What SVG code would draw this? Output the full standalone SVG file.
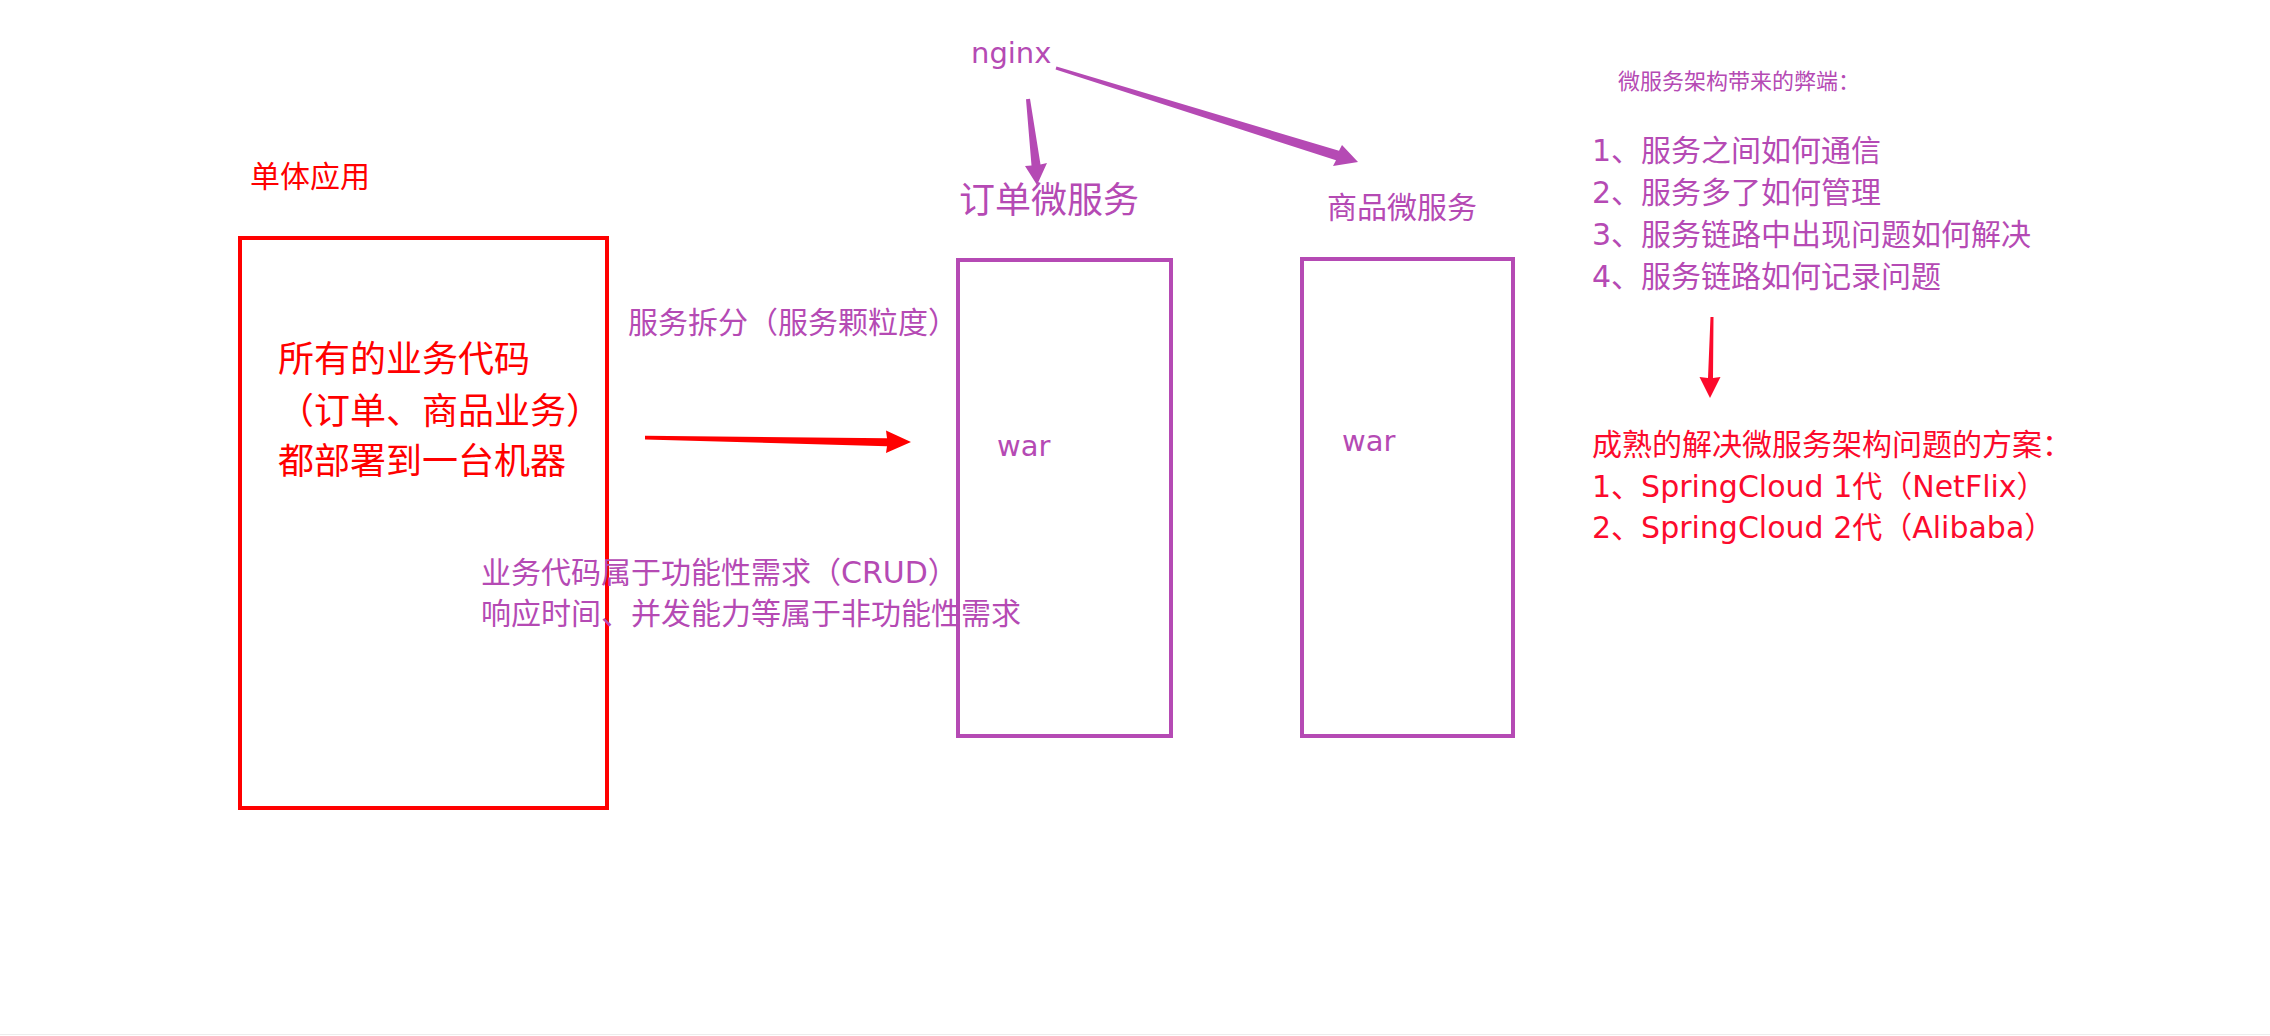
<svg xmlns="http://www.w3.org/2000/svg" width="2270" height="1036" viewBox="0 0 2270 1036">
<style>
  .cjk { font-family: "DejaVu Sans", "Noto Sans CJK SC", sans-serif; }
  .red { fill: #FF0000; }
  .red2 { fill: #FC0A2C; }
  .pur { fill: #B54AB4; }
  .box-red { fill: none; stroke: #FF0000; stroke-width: 4; }
  .box-pur { fill: none; stroke: #B54AB4; stroke-width: 4; }
</style>
<rect x="0" y="0" width="2270" height="1036" fill="#FFFFFF"/>
<line x1="0" y1="1034.5" x2="2270" y2="1034.5" stroke="#ECECEC" stroke-width="1"/>

<g id="monolith">
  <text class="cjk red" x="250" y="187" font-size="30">单体应用</text>
  <rect class="box-red" x="240" y="238" width="367" height="570"/>
  <text class="cjk red" font-size="36">
    <tspan x="278" y="372">所有的业务代码</tspan>
    <tspan x="278" y="424">（订单、商品业务）</tspan>
    <tspan x="278" y="474">都部署到一台机器</tspan>
  </text>
</g>

<g id="split-label">
  <text class="cjk pur" x="628" y="333" font-size="30">服务拆分（服务颗粒度）</text>
</g>

<g id="requirements-note">
  <text class="cjk pur" font-size="30">
    <tspan x="481" y="583">业务代码属于功能性需求（CRUD）</tspan>
    <tspan x="481" y="624">响应时间、并发能力等属于非功能性需求</tspan>
  </text>
</g>

<g id="nginx">
  <text class="cjk pur" x="971" y="63" font-size="29">nginx</text>
</g>

<g id="order-service">
  <text class="cjk pur" x="959" y="213" font-size="36">订单微服务</text>
  <rect class="box-pur" x="958" y="260" width="213" height="476"/>
  <text class="cjk pur" x="997" y="456" font-size="29">war</text>
</g>

<g id="product-service">
  <text class="cjk pur" x="1327" y="218" font-size="30">商品微服务</text>
  <rect class="box-pur" x="1302" y="259" width="211" height="477"/>
  <text class="cjk pur" x="1342" y="451" font-size="29">war</text>
</g>

<g id="drawbacks">
  <text class="cjk pur" x="1618" y="89" font-size="22">微服务架构带来的弊端：</text>
  <text class="cjk pur" font-size="30">
    <tspan x="1592" y="161">1、服务之间如何通信</tspan>
    <tspan x="1592" y="203">2、服务多了如何管理</tspan>
    <tspan x="1592" y="245">3、服务链路中出现问题如何解决</tspan>
    <tspan x="1592" y="287">4、服务链路如何记录问题</tspan>
  </text>
</g>

<g id="solutions">
  <text class="cjk red2" font-size="30">
    <tspan x="1592" y="455">成熟的解决微服务架构问题的方案：</tspan>
    <tspan x="1592" y="497">1、SpringCloud 1代（NetFlix）</tspan>
    <tspan x="1592" y="538">2、SpringCloud 2代（Alibaba）</tspan>
  </text>
</g>

<g id="connectors">
  <polygon fill="#FF0000" points="645,435.8 887,438.3 886,430.5 911,442 886,453 887,446.2 645,439.6"/>
  <polygon fill="#B54AB4" points="1026,99.2 1031.5,165.5 1025,166 1037,185 1047,163 1040.5,164.5 1030,98.8"/>
  <polygon fill="#B54AB4" points="1056.45,66.57 1339,150.7 1342,145 1358,162 1333,166 1336,160.3 1055.55,69.43"/>
  <polygon fill="#FC0A2C" points="1710.5,317 1713.5,317 1713,378 1720.5,377 1710,398 1699.5,377 1708,378"/>
</g>
</svg>
